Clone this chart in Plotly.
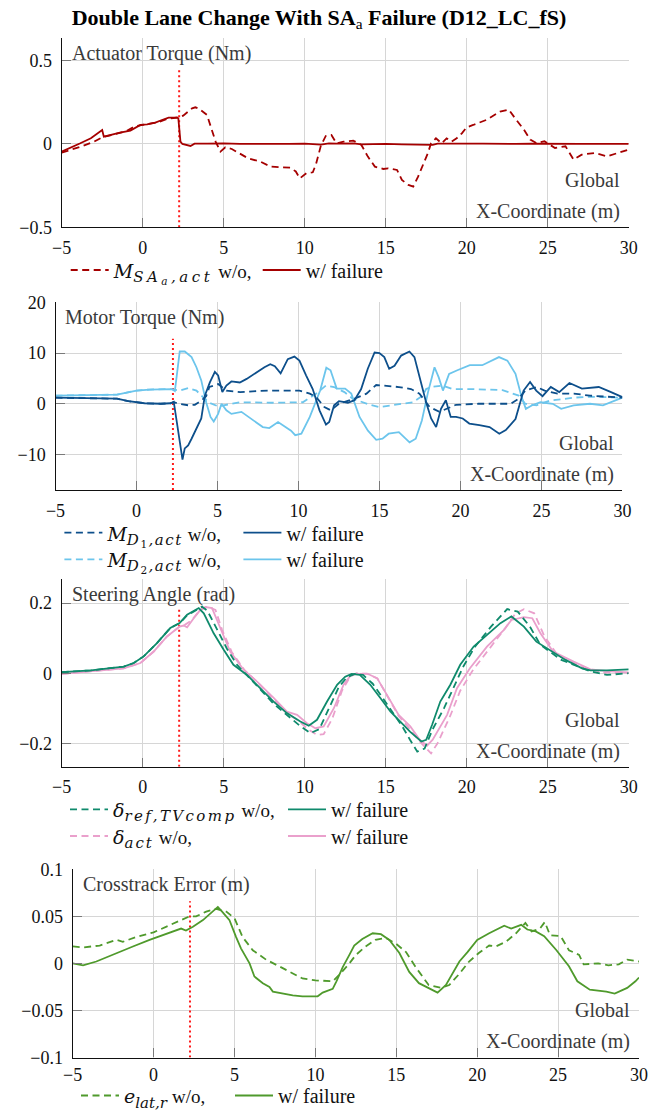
import plotly.graph_objects as go

# ---------------- data ----------------
X_TICKS = [-5, 0, 5, 10, 15, 20, 25, 30]
FAIL_X = 2.25

# Panel 1: actuator torque (Nm)
SA_WO_X = [-5, -4.3, -3.7, -3.0, -2.5, -2.0, -1.5, -1.0, -0.5, 0, 0.5, 1.0, 1.5, 2.0, 2.25, 2.5, 2.8, 3.05, 3.25,
           3.5, 3.97, 4.28, 4.5, 4.8, 5.1, 5.5, 6.0, 6.5, 7.26, 7.9, 8.5, 9.1, 9.45, 9.7, 10.1, 10.5, 10.7, 11.0,
           11.3, 11.65, 11.96, 12.4, 13.0, 13.5, 13.9, 14.33, 14.85, 15.15, 15.7, 16.0, 16.4, 16.7, 17.0, 17.3,
           17.6, 17.8, 18.1, 18.45, 18.76, 19.07, 19.38, 19.7, 20.0, 20.4, 21.2, 22.06, 22.6, 23.02, 23.53, 23.92,
           24.3, 24.8, 25.45, 26.1, 26.6, 27.1, 27.9, 28.66, 29.4, 30]
SA_WO_Y = [-0.052, -0.032, -0.012, 0.014, 0.04, 0.052, 0.066, 0.078, 0.105, 0.114, 0.12, 0.132, 0.15, 0.158, 0.16,
           0.17, 0.195, 0.214, 0.22, 0.21, 0.174, 0.084, 0.014, -0.046, -0.02, -0.03, -0.06, -0.086, -0.106,
           -0.136, -0.14, -0.142, -0.165, -0.206, -0.176, -0.17, -0.12, -0.01, 0.048, 0.054, 0.004, 0.014, 0.02,
           -0.006, -0.076, -0.136, -0.15, -0.146, -0.156, -0.216, -0.246, -0.256, -0.196, -0.126, -0.056, 0.004,
           0.034, 0.004, 0.034, 0.014, 0.034, 0.064, 0.1, 0.114, 0.144, 0.194, 0.206, 0.15, 0.086, 0.026, 0.006,
           0.016, -0.024, -0.014, -0.094, -0.064, -0.054, -0.074, -0.054, -0.034]
SA_WF_X = [-5, -4.4, -3.85, -3.2, -2.5, -2.4, -2.0, -1.4, -0.76, -0.14, 0.27, 0.78, 1.19, 1.6, 2.12, 2.2, 2.33,
           2.45, 2.95, 3.2, 4, 5, 6, 7, 8, 9, 10, 11, 11.5, 12, 13, 13.5, 14, 15, 16, 17, 17.9, 18.2, 19, 20, 21,
           22, 23, 24, 25, 26, 27, 28, 29, 30]
SA_WF_Y = [-0.046, -0.022, 0.004, 0.034, 0.084, 0.044, 0.054, 0.068, 0.08, 0.114, 0.118, 0.128, 0.144, 0.158,
           0.158, 0.154, 0.014, 0.0, -0.012, 0.002, 0.002, 0.004, 0.0, 0.002, 0.0, 0.0, 0.002, -0.004, 0.003,
           0.002, 0.004, -0.002, 0.0, 0.0, -0.002, -0.002, -0.006, 0.002, 0.004, 0.002, 0.002, 0.0, 0.0, 0.002,
           0.0, 0.0, 0.0, 0.0, 0.0, 0.0]

# Panel 2: motor torque (Nm)
MD1_WF_X = [-5, -3, -1.2, -0.5, 0.5, 1.5, 2.1, 2.3, 2.84, 2.98, 3.19, 3.4, 3.7, 4.0, 4.22, 4.53, 4.84, 5.04, 5.3,
            5.55, 5.86, 6.38, 6.8, 7.4, 7.9, 8.26, 8.54, 8.9, 9.34, 9.75, 10.06, 10.47, 10.88, 11.3, 11.7, 11.9,
            12.2, 12.5, 13.05, 13.46, 13.87, 14.28, 14.7, 15.0, 15.3, 15.6, 15.93, 16.34, 16.85, 17.16, 17.57,
            17.88, 18.19, 18.5, 18.8, 19.1, 19.4, 19.73, 20.14, 20.55, 21.17, 21.8, 22.4, 22.8, 23.4, 23.9, 24.3,
            24.68, 25.07, 25.58, 26.1, 26.73, 27.5, 28.54, 29.3, 30]
MD1_WF_Y = [1.2, 1.1, 1.0, 0.5, 0.1, 0.0, 0.1, 0.4, -11.0, -8.8, -8.2, -6.9, -4.9, -2.9, 1.6, 4.2, 6.3, 5.6, 2.3,
            3.6, 4.4, 4.2, 4.9, 6.2, 7.2, 7.8, 7.4, 6.0, 8.8, 9.3, 8.5, 5.6, 2.9, -1.3, -4.1, -3.6, -0.3, 0.5, 0.2,
            0.7, 2.9, 6.9, 10.1, 10.0, 9.2, 6.9, 7.5, 9.5, 10.3, 9.2, 3.9, 0.3, -2.9, -4.6, -1.0, 0.7, -2.6, -2.6,
            -2.9, -3.9, -4.2, -4.6, -5.9, -5.2, -3.0, 2.6, 4.3, 2.6, 1.5, 3.3, 2.3, 4.1, 3.0, 3.3, 2.3, 1.3]
MD2_WF_X = [-5, -3, -1.2, 0, 0.8, 2.16, 2.37, 2.67, 2.98, 3.4, 3.7, 4.0, 4.3, 4.57, 4.77, 5.04, 5.25, 5.55, 5.86,
            6.48, 7.2, 7.8, 8.2, 8.74, 9.54, 9.8, 10.18, 10.7, 11.34, 11.72, 11.98, 12.36, 12.88, 13.26, 13.77,
            14.29, 14.8, 15.19, 15.57, 16.2, 16.86, 17.24, 17.62, 18.0, 18.4, 18.66, 18.92, 19.3, 19.81, 20.58,
            21.35, 22.38, 22.9, 23.4, 23.78, 24.04, 24.43, 24.94, 25.7, 26.22, 26.99, 28.0, 28.8, 30]
MD2_WF_Y = [1.6, 1.7, 1.8, 2.6, 2.8, 2.9, 2.5, 10.3, 10.3, 9.2, 7.2, 4.6, 0.3, -2.6, -3.5, -2.0, 0.0, -1.3, -2.0,
            -1.6, -3.3, -4.6, -4.8, -3.6, -5.3, -6.2, -5.9, -2.6, 2.6, 7.1, 6.6, 3.0, 3.0, 2.0, -2.6, -5.3, -7.1,
            -6.9, -5.9, -5.6, -7.6, -6.9, -3.3, 2.3, 7.2, 5.2, 2.6, 5.9, 6.6, 7.6, 7.6, 9.2, 8.5, 5.9, 1.3, -1.0,
            -0.3, 0.3, 0.0, -1.0, -0.3, 0.0, -0.3, 1.2]
MD1_WO_X = [-5, -3, -1.2, -0.5, 0.5, 1.5, 2.1, 2.3, 2.6, 3.2, 3.6, 4.0, 4.3, 4.5, 5.04, 5.55, 6.4, 7.4, 8.4, 10.06,
            10.7, 11.1, 11.6, 12.0, 12.5, 13.46, 14.2, 14.8, 15.4, 16.2, 16.95, 17.47, 17.88, 18.1, 18.7, 19.1,
            19.73, 21.1, 23.1, 23.6, 24.0, 24.7, 25.2, 26.0, 27.0, 28.0, 29.3, 30]
MD1_WO_Y = [1.2, 1.1, 1.0, 0.5, 0.1, 0.0, 0.1, 0.3, 0.0, -0.3, -0.2, 0.6, 1.5, 3.3, 3.9, 2.6, 2.3, 2.5, 2.6, 2.6,
            2.0, 1.3, -0.65, -1.3, 0.0, 1.0, 2.0, 3.7, 3.5, 3.3, 2.9, 2.0, 0.3, -0.65, -1.6, -1.0, -0.2, 0.0, 0.0,
            1.0, 2.6, 3.3, 2.6, 2.0, 2.0, 1.6, 1.3, 1.2]
MD2_WO_X = [-5, -3, -1.2, 0, 0.8, 2.16, 2.4, 2.67, 3.2, 3.7, 4.1, 4.5, 5.04, 5.76, 6.4, 8.4, 10.27, 11.1, 11.7,
            12.2, 12.84, 13.35, 14.4, 15.0, 15.8, 17.06, 17.67, 17.88, 18.2, 18.9, 19.5, 20.55, 22.6, 23.6, 24.0,
            24.7, 25.5, 27.0, 28.0, 30]
MD2_WO_Y = [1.6, 1.7, 1.8, 2.6, 2.8, 2.9, 2.7, 2.6, 3.1, 2.6, 1.3, 0.2, -0.5, 0.0, 0.3, 0.2, 0.3, 2.0, 3.6, 3.3,
            2.3, 1.0, -0.2, -0.65, -0.3, 0.3, 1.6, 2.9, 3.3, 3.6, 2.9, 2.9, 2.7, 1.6, 0.0, -0.3, 0.6, 1.2, 1.4, 1.2]

# Panel 3: steering angle (rad)
REF_WF_X = [-5, -3.2, -1.17, -0.55, 0.06, 0.88, 1.7, 2.28, 2.74, 3.25, 3.46, 3.77, 4.38, 5.0, 5.6, 6.44, 7.26,
            8.08, 8.9, 9.73, 10.25, 10.76, 11.38, 12.0, 12.5, 12.9, 13.4, 14.05, 14.67, 15.3, 15.9, 16.5, 17.2,
            17.5, 17.86, 18.37, 18.99, 19.6, 20.43, 21.25, 22.08, 22.76, 23.53, 24.3, 25.07, 26.1, 27.12, 27.64,
            28.66, 30]
REF_WF_Y = [0.003, 0.008, 0.019, 0.029, 0.048, 0.086, 0.129, 0.143, 0.167, 0.181, 0.186, 0.171, 0.114, 0.067,
            0.024, -0.005, -0.043, -0.081, -0.114, -0.138, -0.15, -0.133, -0.081, -0.033, -0.01, -0.002, -0.005,
            -0.033, -0.071, -0.11, -0.138, -0.167, -0.195, -0.19, -0.148, -0.081, -0.033, 0.024, 0.076, 0.11,
            0.143, 0.162, 0.133, 0.09, 0.067, 0.038, 0.014, 0.008, 0.008, 0.011]
REF_WO_X = [-5, -3.2, -1.17, -0.55, 0.06, 0.88, 1.7, 2.28, 2.74, 3.25, 3.66, 4.0, 4.6, 5.2, 5.8, 6.5, 7.3, 8.1,
            8.9, 9.7, 10.35, 10.9, 11.5, 12.1, 12.6, 13.1, 13.6, 14.2, 14.8, 15.4, 16.0, 16.5, 16.95, 17.4, 17.9,
            18.6, 19.2, 19.8, 20.5, 21.5, 22.5, 23.15, 23.9, 24.55, 25.84, 27.64, 28.66, 30]
REF_WO_Y = [0.003, 0.008, 0.019, 0.029, 0.048, 0.086, 0.129, 0.143, 0.165, 0.18, 0.19, 0.178, 0.124, 0.07, 0.025,
            -0.008, -0.048, -0.088, -0.12, -0.15, -0.171, -0.16, -0.1, -0.04, -0.012, -0.002, -0.005, -0.03,
            -0.07, -0.11, -0.15, -0.19, -0.224, -0.215, -0.16, -0.1, -0.04, 0.02, 0.075, 0.133, 0.183, 0.176,
            0.133, 0.081, 0.038, 0.005, -0.005, 0.0]
ACT_WF_X = [-5, -1.17, -0.14, 0.68, 1.5, 2.28, 2.53, 2.74, 3.15, 3.56, 3.87, 4.28, 4.79, 5.4, 6.23, 7.06, 8.1,
            8.9, 9.53, 10.14, 10.66, 11.17, 11.8, 12.4, 12.9, 13.85, 14.47, 15.08, 15.8, 16.52, 17.1, 17.55, 17.9,
            18.79, 19.4, 20.2, 21.25, 22.3, 22.76, 23.53, 24.05, 24.55, 25.33, 26.6, 27.64, 28.9, 30]
ACT_WF_Y = [-0.002, 0.014, 0.029, 0.062, 0.105, 0.133, 0.136, 0.131, 0.157, 0.181, 0.189, 0.186, 0.129, 0.062,
            0.01, -0.024, -0.071, -0.11, -0.119, -0.143, -0.157, -0.152, -0.1, -0.033, -0.003, -0.001, -0.014,
            -0.062, -0.119, -0.152, -0.19, -0.207, -0.19, -0.119, -0.043, 0.014, 0.076, 0.124, 0.152, 0.16, 0.157,
            0.114, 0.062, 0.033, 0.011, 0.005, 0.002]
ACT_WO_X = [-5, -1.17, -0.14, 0.68, 1.5, 2.28, 2.6, 3.0, 3.5, 3.97, 4.49, 4.9, 5.5, 6.3, 7.1, 8.1, 8.9, 9.6,
            10.2, 10.76, 11.17, 11.7, 12.3, 12.8, 13.2, 13.9, 14.5, 15.1, 15.8, 16.5, 17.2, 17.8, 18.2, 19.0,
            19.6, 20.4, 21.4, 22.4, 23.0, 23.53, 24.17, 24.8, 25.6, 27.1, 28.4, 30]
ACT_WO_Y = [-0.002, 0.014, 0.029, 0.062, 0.105, 0.133, 0.138, 0.15, 0.178, 0.19, 0.181, 0.124, 0.06, 0.008,
            -0.026, -0.075, -0.115, -0.135, -0.16, -0.176, -0.174, -0.13, -0.05, -0.01, 0.0, -0.002, -0.016,
            -0.065, -0.122, -0.16, -0.2, -0.229, -0.2, -0.12, -0.05, 0.01, 0.07, 0.13, 0.17, 0.183, 0.171, 0.105,
            0.052, 0.019, 0.002, 0.0]

# Panel 4: crosstrack error (m)
ELAT_WF_X = [-5, -4.36, -3.54, -2.3, -1.28, -0.25, 0.78, 1.7, 2.0, 2.43, 3.05, 3.66, 3.97, 4.18, 4.69, 5.1, 5.4,
             5.93, 6.23, 6.75, 7.16, 7.37, 7.98, 8.6, 9.2, 9.63, 10.14, 10.45, 11.07, 11.3, 11.69, 12.1, 12.4,
             12.9, 13.54, 14.05, 14.57, 15.19, 15.8, 16.4, 17.0, 17.55, 18.07, 18.58, 18.9, 19.4, 20.0, 20.74,
             21.67, 22.1, 22.72, 23.1, 23.62, 24.14, 24.9, 25.67, 26.19, 26.96, 27.98, 28.5, 29.27, 29.78, 30]
ELAT_WF_Y = [0.0, -0.002, 0.002, 0.011, 0.018, 0.025, 0.031, 0.037, 0.035, 0.039, 0.046, 0.056, 0.06, 0.056,
             0.046, 0.028, 0.016, 0.0, -0.014, -0.021, -0.025, -0.03, -0.032, -0.034, -0.035, -0.035, -0.035,
             -0.031, -0.027, -0.019, -0.004, 0.009, 0.019, 0.026, 0.032, 0.031, 0.025, 0.011, -0.009, -0.021,
             -0.026, -0.031, -0.023, -0.007, 0.002, 0.012, 0.025, 0.032, 0.04, 0.037, 0.041, 0.036, 0.034, 0.029,
             0.014, -0.003, -0.019, -0.028, -0.03, -0.032, -0.026, -0.019, -0.015]
ELAT_WO_X = [-5, -4.36, -3.33, -2.3, -1.9, -1.07, 0, 0.78, 1.6, 2.22, 2.63, 3.25, 3.87, 4.49, 5.0, 5.5, 6.13,
             6.95, 7.98, 9.2, 10.0, 11.07, 11.48, 12.1, 12.5, 13.1, 13.7, 14.36, 14.98, 15.6, 16.2, 17.0, 17.76,
             18.27, 18.9, 19.5, 20.1, 20.74, 21.15, 21.77, 22.4, 22.98, 23.36, 23.88, 24.18, 24.5, 25.16, 25.67,
             26.3, 26.58, 27.48, 28.11, 28.75, 29.27, 30]
ELAT_WO_Y = [0.018, 0.017, 0.019, 0.025, 0.023, 0.028, 0.033, 0.039, 0.046, 0.05, 0.05, 0.055, 0.058, 0.055,
             0.048, 0.028, 0.014, 0.004, -0.005, -0.016, -0.018, -0.019, -0.012, 0.0, 0.009, 0.018, 0.025, 0.027,
             0.021, 0.012, -0.004, -0.023, -0.026, -0.023, -0.011, 0.002, 0.011, 0.019, 0.018, 0.023, 0.032,
             0.043, 0.034, 0.037, 0.044, 0.030, 0.029, 0.014, 0.009, -0.001, 0.0, -0.002, -0.001, 0.004, 0.002]

# failure marker: vertical extent per panel
FAIL_TOP = [0.45, 12.8, 0.181, 0.066]
Y_RANGES = [[-0.5, 0.634], [-17.0, 20.0], [-0.267, 0.269], [-0.1, 0.1]]
Y_DTICK = [0.5, 10, 0.2, 0.05]
PANEL_LABELS = ["Actuator Torque (Nm)", "Motor Torque (Nm)", "Steering Angle (rad)", "Crosstrack Error (m)"]
TITLE = "<b>Double Lane Change With SA</b><sub>a</sub><b> Failure (D12_LC_fS)</b>"

# ---------------- styling / layout ----------------
W, H = 652, 1111
# plot-area pixel boxes (left, right, top, bottom)
BOXES = [(61.7, 628.7, 38.3, 227.3), (55.5, 622.4, 302.3, 490.0),
         (61.7, 628.7, 579.0, 766.7), (72.7, 639.0, 869.3, 1057.5)]

RED = "#a50000"
DBLUE = "#0d4f8b"
LBLUE = "#6cc5ec"
TEAL = "#0f8a6c"
PINK = "#eaa0cc"
GREEN = "#4f9a2c"
DASH = "7px,4.5px"
SERIF = "Liberation Serif"
MATH = "DejaVu Serif"

fig = go.Figure()


def ax(i):
    return ("x" if i == 0 else f"x{i+1}"), ("y" if i == 0 else f"y{i+1}")


def add(i, x, y, color, dash, name, legend, width=1.8):
    xa, ya = ax(i)
    fig.add_trace(go.Scatter(x=x, y=y, mode="lines", xaxis=xa, yaxis=ya, name=name,
                             line=dict(color=color, width=width, dash=dash),
                             legend=legend, showlegend=True, hoverinfo="skip"))


def math(sym, sub, ls=1.5):
    return (f'<span style="font-family:{MATH};font-size:19px"><i>{sym}</i></span>'
            f'<sub><span style="font-family:{MATH};font-size:15px;letter-spacing:{ls}px">{sub}</span></sub>'
            f' <span style="font-size:19px">w/o,</span>')


# failure lines (drawn first, behind)
for i in range(4):
    xa, ya = ax(i)
    fig.add_trace(go.Scatter(x=[FAIL_X, FAIL_X], y=[Y_RANGES[i][0], FAIL_TOP[i]], mode="lines",
                             xaxis=xa, yaxis=ya, showlegend=False, hoverinfo="skip",
                             line=dict(color="#ff1a1a", width=2, dash="2px,3px")))

add(0, SA_WO_X, SA_WO_Y, RED, DASH, math("M", "<i>SA</i><sub><i>a</i></sub><i>,act</i>", 3.5), "legend")
add(0, SA_WF_X, SA_WF_Y, RED, "solid", "w/ failure", "legend")

add(1, MD2_WO_X, MD2_WO_Y, LBLUE, DASH, math("M", "<i>D</i><sub>2</sub><i>,act</i>"), "legend3")
add(1, MD2_WF_X, MD2_WF_Y, LBLUE, "solid", "w/ failure", "legend3")
add(1, MD1_WO_X, MD1_WO_Y, DBLUE, DASH, math("M", "<i>D</i><sub>1</sub><i>,act</i>"), "legend2")
add(1, MD1_WF_X, MD1_WF_Y, DBLUE, "solid", "w/ failure", "legend2")

add(2, ACT_WO_X, ACT_WO_Y, PINK, DASH, math("δ", "<i>act</i>", 2), "legend5")
add(2, ACT_WF_X, ACT_WF_Y, PINK, "solid", "w/ failure", "legend5")
add(2, REF_WO_X, REF_WO_Y, TEAL, DASH, math("δ", "<i>ref,TVcomp</i>", 2.4), "legend4")
add(2, REF_WF_X, REF_WF_Y, TEAL, "solid", "w/ failure", "legend4")

add(3, ELAT_WO_X, ELAT_WO_Y, GREEN, DASH, math("e", "<i>lat,r</i>", 0), "legend6")
add(3, ELAT_WF_X, ELAT_WF_Y, GREEN, "solid", "w/ failure", "legend6")

layout = dict(width=W, height=H, autosize=False, margin=dict(l=0, r=0, t=0, b=0, pad=0, autoexpand=False),
              paper_bgcolor="white", plot_bgcolor="white", showlegend=True,
              font=dict(family=SERIF, size=18, color="#111111"),
              title=dict(text=TITLE, x=319 / W, xanchor="center", y=1 - 17 / H, yanchor="middle",
                         font=dict(family=SERIF, size=22, color="black")))

annotations = []
for i, (l, r, t, b) in enumerate(BOXES):
    xa, ya = ax(i)
    kx = "xaxis" if i == 0 else f"xaxis{i+1}"
    ky = "yaxis" if i == 0 else f"yaxis{i+1}"
    common = dict(showgrid=True, gridcolor="#d6d6d6", gridwidth=1, zeroline=False, showline=True,
                  linecolor="#111111", linewidth=1.3, ticks="inside", ticklen=9, tickwidth=1.2,
                  tickcolor="#7a7a7a", tickfont=dict(family=SERIF, size=18, color="#111111"), fixedrange=True,
                  automargin=False)
    layout[kx] = dict(common, domain=[l / W, r / W], anchor=ya, range=[-5, 30], tickvals=X_TICKS,
                      ticklabelstandoff=1 if i == 3 else 4)
    layout[ky] = dict(common, domain=[1 - b / H, 1 - t / H], anchor=xa, range=Y_RANGES[i], tick0=0,
                      dtick=Y_DTICK[i], ticklabelstandoff=5)
    xd, yd = f"{xa} domain", f"{ya} domain"
    annotations.append(dict(text=PANEL_LABELS[i], xref=xd, yref=yd, x=0.014, y=0.917, xanchor="left",
                            yanchor="middle", showarrow=False, font=dict(family=SERIF, size=20, color="#3a3a3a")))
    annotations.append(dict(text="Global", xref=xd, yref=yd, x=0.988, y=0.25, xanchor="right",
                            yanchor="middle", showarrow=False, font=dict(family=SERIF, size=20, color="#3a3a3a")))
    annotations.append(dict(text="X-Coordinate (m)", xref=xd, yref=yd, x=0.988, y=0.083, xanchor="right",
                            yanchor="middle", showarrow=False, font=dict(family=SERIF, size=20, color="#3a3a3a")))
layout["annotations"] = annotations

# legends: (name, left pixel of first sample line, row centre pixel, entry width)
LEG = [("legend", 70.7, 270.0, 139), ("legend2", 64.4, 532.7, 126), ("legend3", 64.4, 559.3, 126),
       ("legend4", 70.0, 809.3, 165), ("legend5", 70.0, 836.0, 165), ("legend6", 81.0, 1095.5, 101)]
for name, lx, ly, ew in LEG:
    layout[name] = dict(orientation="h", x=(lx - 5) / W, xanchor="left", y=1 - ly / H, yanchor="middle",
                        bgcolor="rgba(0,0,0,0)", borderwidth=0, entrywidth=ew, entrywidthmode="pixels",
                        itemwidth=38, font=dict(family=SERIF, size=20, color="#111111"), traceorder="normal",
                        itemclick=False, itemdoubleclick=False)

fig.update_layout(**layout)
fig.write_html("out.html", config={"displayModeBar": False},
               post_script="document.body.style.margin='0';document.body.style.padding='0';"
                           "document.documentElement.style.overflow='hidden';")
